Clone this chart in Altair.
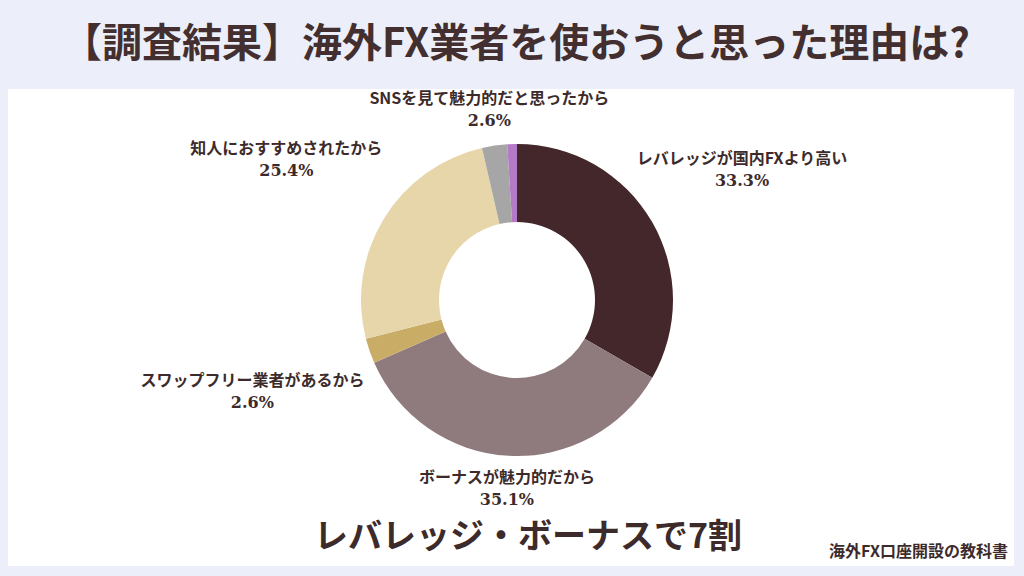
import altair as alt
import pandas as pd

# ---- data ----
categories = [
    "レバレッジが国内FXより高い",
    "ボーナスが魅力的だから",
    "スワップフリー業者があるから",
    "知人におすすめされたから",
    "SNSを見て魅力的だと思ったから",
    "その他",
]
values = [33.3, 35.1, 2.6, 25.4, 2.6, 1.0]
show_label = [True, True, True, True, True, False]

# ---- style / layout ----
colors = ["#43272a", "#8f7b7d", "#c9ac66", "#e8d6ab", "#a6a6a6", "#b47ac8"]
label_radius = {
    "レバレッジが国内FXより高い": 260,
    "ボーナスが魅力的だから": 189,
    "スワップフリー業者があるから": 280,
    "知人におすすめされたから": 270,
    "SNSを見て魅力的だと思ったから": 192,
    "その他": 200,
}
TEXT = "#3d2b2b"
JP = "Noto Sans CJK JP"
CX, CY = 509, 211  # pie centre in view coordinates

df = pd.DataFrame({
    "cat": categories,
    "v": values,
    "show": show_label,
    "idx": list(range(len(categories))),
})
df["lr"] = df["cat"].map(label_radius)

arcs = alt.Chart(df).mark_arc(outerRadius=156, innerRadius=78, stroke=None).encode(
    theta=alt.Theta("v:Q", stack=True),
    order=alt.Order("idx:Q"),
    color=alt.Color("cat:N", scale=alt.Scale(domain=categories, range=colors), legend=None),
    x=alt.value(CX), y=alt.value(CY),
)

# label angles: middle of each slice, computed from the same values
lab = alt.Chart(df).transform_joinaggregate(
    total="sum(v)"
).transform_window(
    cum="sum(v)", sort=[alt.SortField("idx")], frame=[None, 0]
).transform_calculate(
    mid="(datum.cum - datum.v / 2) / datum.total",
    name="datum.show ? datum.cat : ''",
    pct="datum.show ? format(datum.v, '.1f') + '%' : ''",
)

name_txt = lab.mark_text(font=JP, fontSize=16, fontWeight="bold", color=TEXT, dy=-11).encode(
    theta=alt.Theta("mid:Q", stack=None, scale=alt.Scale(domain=[0, 1])),
    radius=alt.Radius("lr:Q", scale=None),
    text="name:N",
    x=alt.value(CX), y=alt.value(CY),
)

val_txt = lab.mark_text(font="DejaVu Serif", fontSize=16, fontWeight="bold", color=TEXT, dy=11).encode(
    theta=alt.Theta("mid:Q", stack=None, scale=alt.Scale(domain=[0, 1])),
    radius=alt.Radius("lr:Q", scale=None),
    text="pct:N",
    x=alt.value(CX), y=alt.value(CY),
)

labels = alt.layer(name_txt, val_txt).resolve_scale(theta="shared")

title_txt = alt.Chart(pd.DataFrame({"t": ["【調査結果】海外FX業者を使おうと思った理由は?"]})).mark_text(
    font=JP, fontSize=40, fontWeight="bold", color="#432f2f", baseline="middle"
).encode(text="t:N", x=alt.value(508), y=alt.value(-44))

big_txt = alt.Chart(pd.DataFrame({"t": ["レバレッジ・ボーナスで7割"]})).mark_text(
    font=JP, fontSize=34, fontWeight="bold", color=TEXT, baseline="middle"
).encode(text="t:N", x=alt.value(520), y=alt.value(449))

foot_txt = alt.Chart(pd.DataFrame({"t": ["海外FX口座開設の教科書"]})).mark_text(
    font=JP, fontSize=16, fontWeight="bold", color=TEXT, baseline="middle", align="right"
).encode(text="t:N", x=alt.value(1000), y=alt.value(463))

chart = alt.layer(arcs, labels, title_txt, big_txt, foot_txt).resolve_scale(
    theta="independent"
).properties(
    width=1006,
    height=477,
    padding={"left": 8, "top": 89, "right": 10, "bottom": 10},
    autosize=alt.AutoSizeParams(type="none"),
    background="#eceef9",
).configure_view(fill="white", stroke=None)

chart.save("out.html", embed_options={"renderer": "svg", "actions": False})
